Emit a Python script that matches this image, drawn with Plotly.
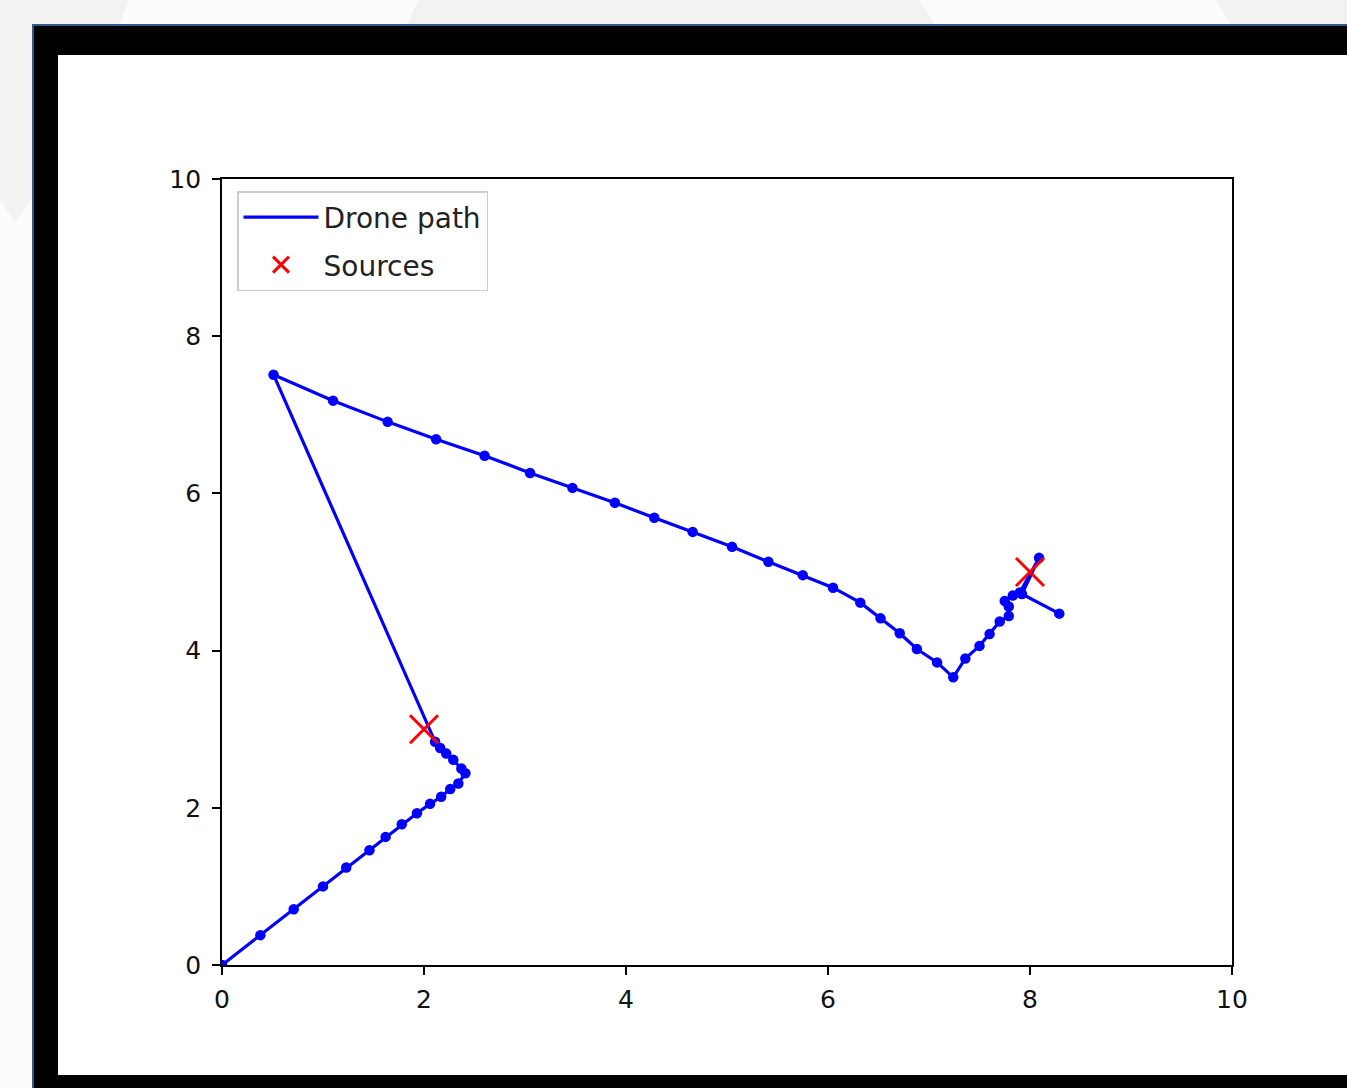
import plotly.graph_objects as go

# ---- data ----
path_x = [0.00, 0.38, 0.71, 1.00, 1.23, 1.46, 1.62, 1.78, 1.93, 2.06, 2.17, 2.26, 2.34, 2.41,
          2.37, 2.29, 2.22, 2.16, 2.11,
          0.51, 1.10, 1.64, 2.12, 2.60, 3.05, 3.47, 3.89, 4.28, 4.66, 5.05, 5.41, 5.75, 6.05,
          6.32, 6.52, 6.71, 6.88, 7.08, 7.24,
          7.36, 7.50, 7.60, 7.70, 7.79, 7.79, 7.75, 7.83, 7.90, 8.09, 7.92, 8.29]
path_y = [0.00, 0.38, 0.71, 1.00, 1.24, 1.46, 1.63, 1.79, 1.93, 2.05, 2.14, 2.24, 2.31, 2.44,
          2.50, 2.61, 2.69, 2.76, 2.84,
          7.51, 7.18, 6.91, 6.69, 6.48, 6.26, 6.07, 5.88, 5.69, 5.51, 5.32, 5.13, 4.96, 4.80,
          4.61, 4.41, 4.22, 4.02, 3.85, 3.66,
          3.90, 4.06, 4.21, 4.37, 4.44, 4.56, 4.63, 4.70, 4.74, 5.18, 4.72, 4.47]
source_x = [2, 8]
source_y = [3, 5]
tick_vals = [0, 2, 4, 6, 8, 10]
tick_text = ["0", "2", "4", "6", "8", "10"]

# ---- layout geometry ----
W, H = 1347, 1088
L, R, T, B = 222, 1232, 179, 965   # plot area in pixels
PW, PH = R - L, B - T


def px(x):
    return (x - L) / PW


def py(y):
    return (B - y) / PH


def poly(pts):
    return "M " + " L ".join(f"{px(a):.5f},{py(b):.5f}" for a, b in pts) + " Z"


fig = go.Figure()

fig.add_trace(go.Scatter(
    x=path_x, y=path_y, mode="lines", name="Drone path",
    line=dict(color="#0000ff", width=3.2),
    legendgroup="a",
))
fig.add_trace(go.Scatter(
    x=path_x, y=path_y, mode="markers", name="Drone path points", showlegend=False,
    marker=dict(color="#0000ff", size=10.5),
))
fig.add_trace(go.Scatter(
    x=source_x, y=source_y, mode="markers", name="Sources",
    marker=dict(symbol="x-thin", size=28, line=dict(color="#ff0000", width=3), color="#ff0000"),
    legendgroup="b",
))

shapes = []
gray = "#f2f2f1"
for pts in [
    [(0, 0), (129, 0), (118, 30), (34, 30), (34, 196), (15, 222), (0, 200)],
    [(418, 0), (919, 0), (938, 30), (405, 30)],
    [(1216, 0), (1350, 0), (1350, 30), (1233, 30)],
]:
    shapes.append(dict(type="path", xref="paper", yref="paper", path=poly(pts),
                       fillcolor=gray, line=dict(width=0), layer="below"))
# slide frame
shapes.append(dict(type="rect", xref="paper", yref="paper",
                   x0=px(32), x1=px(1352), y0=py(1095), y1=py(24),
                   fillcolor="#2e5a8e", line=dict(width=0), layer="below"))
shapes.append(dict(type="rect", xref="paper", yref="paper",
                   x0=px(34), x1=px(1352), y0=py(1095), y1=py(26),
                   fillcolor="#000000", line=dict(width=0), layer="below"))
shapes.append(dict(type="rect", xref="paper", yref="paper",
                   x0=px(58), x1=px(1352), y0=py(1075), y1=py(55),
                   fillcolor="#ffffff", line=dict(width=0), layer="below"))

axis_common = dict(
    range=[0, 10], tickvals=tick_vals, ticktext=tick_text,
    showgrid=False, zeroline=False, showline=True, mirror=True,
    linecolor="black", linewidth=1.8, ticks="outside", ticklen=8, tickwidth=1.8,
    tickcolor="black", tickfont=dict(family="DejaVu Sans", size=25, color="#111111"),
    fixedrange=True,
)

fig.update_layout(
    width=W, height=H,
    margin=dict(l=L, r=W - R, t=T, b=H - B, pad=0),
    paper_bgcolor="#fcfcfc", plot_bgcolor="#ffffff",
    xaxis=dict(**axis_common, ticklabelstandoff=3),
    yaxis=dict(**axis_common, ticklabelstandoff=6),
    shapes=shapes,
    showlegend=True,
    legend=dict(
        x=px(237), y=py(191), xanchor="left", yanchor="top",
        bgcolor="#ffffff", bordercolor="#cccccc", borderwidth=1.5,
        font=dict(family="DejaVu Sans", size=28, color="#222222"),
        itemwidth=75, traceorder="grouped", tracegroupgap=8,
    ),
)

fig.write_html("out.html", config={"displayModeBar": False},
               post_script="document.body.style.margin='0px';")
